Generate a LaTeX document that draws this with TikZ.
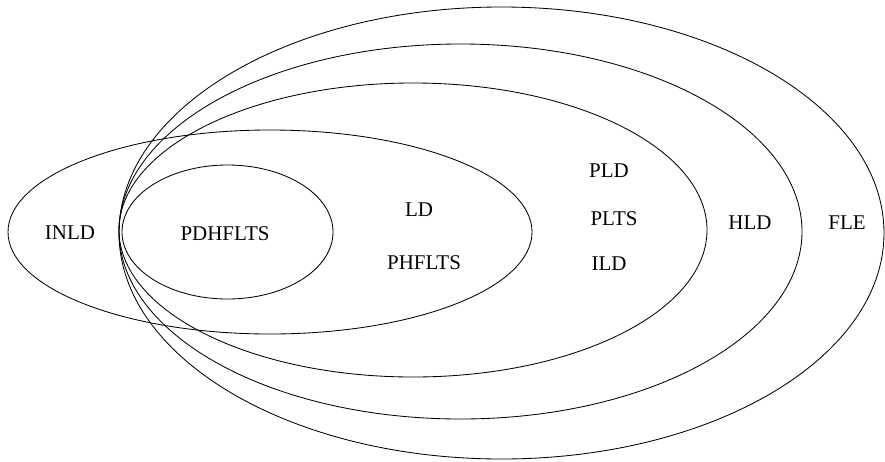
\documentclass[tikz,border=0pt]{standalone}
\usepackage{fontspec}
\setmainfont{Liberation Serif}
\usetikzlibrary{calc}

\begin{document}
\begin{tikzpicture}[x=0.025cm, y=-0.025cm, set/.style={line width=0.6pt}, lbl/.style={inner sep=0pt, font=\fontsize{14.9}{17}\selectfont}]
		\useasboundingbox (0,0) rectangle (885,461);
		\draw [set] (501.5,233) ellipse (382.5 and 226);
		\draw [set] (460.5,231.5) ellipse (341.5 and 187.5);
		\draw [set] (413,230) ellipse (294 and 147);
		\draw [set] (270,232) ellipse (262 and 102);
		\draw [set] (227.5,232) ellipse (105.5 and 67);
		\node[lbl] (inld) at (70,233) {INLD};
		\node[lbl] (pdhflts) at (225,234) {PDHFLTS};
		\node[lbl] (ld) at (419,210) {LD};
		\node[lbl] (phflts) at (424,263) {PHFLTS};
		\node[lbl] (pld) at (609,171) {PLD};
		\node[lbl] (plts) at (614,219) {PLTS};
		\node[lbl] (ild) at (609,264) {ILD};
		\node[lbl] (hld) at (750,223) {HLD};
		\node[lbl] (fle) at (847,223) {FLE};
		\end{tikzpicture}
\end{document}
